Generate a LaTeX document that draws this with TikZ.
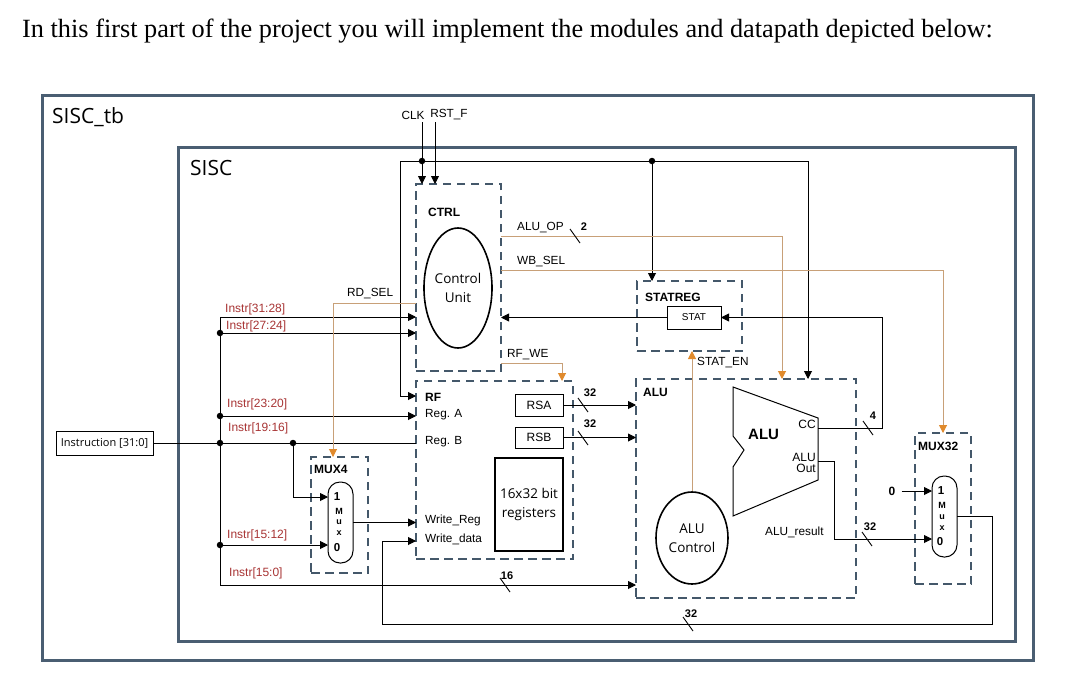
\documentclass[tikz,border=0pt]{standalone}
\usepackage{fontspec}
\setmainfont{Liberation Serif}
\setsansfont{Liberation Sans}
\newfontfamily\segoe{Open Sans}
\usetikzlibrary{arrows.meta,calc,shapes.geometric}
\definecolor{framec}{RGB}{74,94,114}
\definecolor{dashc}{RGB}{68,88,106}
\definecolor{oline}{RGB}{200,160,120}
\definecolor{ohead}{RGB}{224,138,44}
\definecolor{instrred}{RGB}{168,52,52}
\newcommand{\bx}[6][]{\node[#1, anchor=north west, outer sep=0pt, inner sep=0pt, minimum width={#5-#3}, minimum height={#6-#4}] (#2) at (#3,#4) {};}
\newcommand{\busmark}[1]{\draw[wire] ($(#1)+(-5,-7)$) -- ($(#1)+(5,7)$);}
\begin{document}
\begin{tikzpicture}[x=1pt,y=-1pt,
  lbl/.style={font=\sffamily\fontsize{11.8}{13}\selectfont, inner sep=0pt, anchor=west},
  ilbl/.style={font=\sffamily\fontsize{12}{13}\selectfont, inner sep=0pt, anchor=west, text=instrred},
  blbl/.style={font=\sffamily\bfseries\fontsize{12}{14}\selectfont, inner sep=0pt, anchor=west},
  numlbl/.style={font=\sffamily\bfseries\fontsize{11}{13}\selectfont, inner sep=0pt},
  muxlbl/.style={font=\sffamily\bfseries\fontsize{11.5}{12}\selectfont, inner sep=0pt},
  muxsm/.style={font=\sffamily\bfseries\fontsize{9}{9}\selectfont, inner sep=0pt},
  segl/.style={font=\segoe\fontsize{13.5}{19}\selectfont, align=center},
  frame/.style={draw=framec, line width=3pt},
  dbox/.style={draw=dashc, line width=2.8pt, dash pattern=on 8.5pt off 5.5pt},
  sbox/.style={draw=black, line width=0.8pt, font=\sffamily\fontsize{12}{14}\selectfont},
  wire/.style={draw=black, line width=0.9pt},
  arr/.style={wire, -{Triangle[length=8pt,width=8pt]}},
  owire/.style={draw=oline, line width=1pt},
  oarr/.style={owire, -{Triangle[length=8pt,width=8pt,color=ohead]}},
  dot/.style={circle, fill=black, inner sep=0pt, minimum size=6.5pt}
]
\useasboundingbox (0,0) rectangle (1090,686);
\fill[white] (0,0) rectangle (1090,686);

% title
\node[font=\rmfamily\fontsize{26.3}{28}\selectfont, anchor=base west, inner sep=0pt] (title) at (22,37)
  {In this first part of the project you will implement the modules and datapath depicted below:};

% frames
\bx[frame]{tb}{42}{95}{1033}{660}
\bx[frame]{sisc}{178}{147}{1015}{641}
\node[font=\segoe\fontsize{21}{24}\selectfont, anchor=west, inner sep=0pt] (tblbl) at (52,117) {SISC\_tb};
\node[font=\segoe\fontsize{21}{24}\selectfont, anchor=west, inner sep=0pt] (sisclbl) at (190,168) {SISC};

% CTRL
\bx[dbox]{ctrl}{416}{184}{501}{371}
\node[blbl] (ctrllbl) at (428,212) {CTRL};
\node[ellipse, draw, line width=1.6pt, minimum width=68pt, minimum height=120pt, inner sep=0pt, segl] (cu) at (458,288) {Control\\Unit};

% RF
\bx[dbox]{rf}{416}{381}{573}{559}
\bx[sbox]{rsa}{515}{394}{563}{416}
\node[font=\sffamily\fontsize{12}{14}\selectfont] (rsat) at (rsa) {RSA};
\bx[sbox]{rsb}{515}{427}{563}{448}
\node[font=\sffamily\fontsize{12}{14}\selectfont] (rsbt) at (rsb) {RSB};
\bx[draw=black, line width=2.4pt]{regs}{495}{458}{563}{551}
\node[font=\segoe\fontsize{13.5}{19}\selectfont, align=center] (regst) at (529,504) {16x32 bit\\registers};
\node[blbl] (rflbl) at (425,397) {RF};
\node[lbl] (rega) at (425,415) {Reg. A};
\node[lbl] (regb) at (425,442) {Reg. B};
\node[lbl] (wreg) at (425,520) {Write\_Reg};
\node[lbl] (wdat) at (425,539) {Write\_data};

% STATREG
\bx[dbox]{statreg}{637}{281}{742}{351}
\node[blbl] (statreglbl) at (645,297) {STATREG};
\bx[sbox]{stat}{667}{306}{721}{329}
\node[font=\sffamily\fontsize{10}{12}\selectfont] (statt) at (stat) {STAT};

% ALU
\bx[dbox]{alu}{636}{379}{856}{598}
\node[blbl] (alulbl) at (643,392) {ALU};
\draw[line width=1pt] (733,387) coordinate (aluTL) -- (818,418) -- (818,480) -- (733,516) -- (733,467) -- (744,450) -- (733,436) -- cycle;
\coordinate (ccout) at (818,428);
\coordinate (aluout) at (818,461);
\node[font=\sffamily\bfseries\fontsize{15}{17}\selectfont, anchor=west, inner sep=0pt] (alubig) at (748,434) {ALU};
\node[font=\sffamily\fontsize{12}{13}\selectfont, anchor=east, inner sep=0pt] (cclbl) at (816,424) {CC};
\node[font=\sffamily\fontsize{12}{11}\selectfont, anchor=east, inner sep=0pt, align=right] (aluoutlbl) at (816,463) {ALU\\Out};
\node[ellipse, draw, line width=1.6pt, minimum width=72pt, minimum height=92pt, inner sep=0pt, segl] (aluctrl) at (692,538) {ALU\\Control};
\node[lbl] (alures) at (765,532) {ALU\_result};

% MUX4
\bx[dbox]{mux4}{311}{457}{368}{573}
\node[blbl] (mux4lbl) at (314,469) {MUX4};
\bx[draw=black, line width=1pt, rounded corners=12pt]{mux4s}{328}{482}{353}{563}
\node[muxlbl] (m4a) at (337,497) {1};
\node[muxsm] (m4b) at (339,511) {M};
\node[muxsm] (m4c) at (339,522) {u};
\node[muxsm] (m4d) at (339,533) {x};
\node[muxlbl] (m4e) at (337,548) {0};

% MUX32
\bx[dbox]{mux32}{915}{433}{971}{584}
\node[blbl] (mux32lbl) at (918,446) {MUX32};
\bx[draw=black, line width=1pt, rounded corners=12pt]{mux32s}{932}{476}{957}{557}
\node[muxlbl] (m32a) at (941,491) {1};
\node[muxsm] (m32b) at (942,505) {M};
\node[muxsm] (m32c) at (942,517) {u};
\node[muxsm] (m32d) at (942,528) {x};
\node[muxlbl] (m32e) at (940,542) {0};
\node[font=\sffamily\bfseries\fontsize{12}{14}\selectfont, inner sep=0pt] (zero) at (892,491) {0};

% Instruction
\bx[draw=black, line width=0.8pt]{instr}{56}{431}{153}{455}
\node[font=\segoe\fontsize{11}{13}\selectfont] (instrt) at (instr) {Instruction [31:0]};

% CLK / RST
\node[lbl, anchor=center] (clk) at (413,115) {CLK};
\node[lbl, anchor=center] (rst) at (449,115) {RST\_F};
\coordinate (clkin) at (422,122);
\coordinate (rstin) at (435,122);
\coordinate (clkj) at (422,161);
\coordinate (clkL) at (400,161);
\coordinate (clkS) at (652,161);
\coordinate (clkR) at (808,161);
\coordinate (rfin) at (400,396);
\draw[arr] (clkin) -- (ctrl.north -| clkin);
\draw[arr] (rstin) -- (ctrl.north -| rstin);
\draw[wire] (clkL) -- (clkR);
\draw[arr] (clkL) -- (rfin) -- (rf.west |- rfin);
\draw[arr] (clkS) -- (statreg.north -| clkS);
\draw[arr] (clkR) -- (alu.north -| clkR);
\node[dot] (d1) at (clkj) {};
\node[dot] (d2) at (clkS) {};

% instruction bus
\coordinate (bTop) at (220,317);
\coordinate (b2724) at (220,333);
\coordinate (b2320) at (220,416);
\coordinate (bInstr) at (220,443);
\coordinate (b1916) at (293,443);
\coordinate (b1916d) at (293,497);
\coordinate (b1512) at (220,545);
\coordinate (bBot) at (220,585);
\draw[wire] (instr.east) -- (rf.west |- instr.east);
\draw[wire] (bTop) -- (bBot);
\draw[arr] (bTop) -- (ctrl.west |- bTop);
\draw[arr] (b2724) -- (ctrl.west |- b2724);
\draw[arr] (b2320) -- (rf.west |- b2320);
\draw[arr] (b1916) -- (b1916d) -- (mux4s.west |- b1916d);
\draw[arr] (b1512) -- (mux4s.west |- b1512);
\draw[arr] (bBot) -- (alu.west |- bBot);
\node[dot] at (b2724) {};
\node[dot] at (b2320) {};
\node[dot] at (bInstr) {};
\node[dot] at (b1916) {};
\node[dot] at (b1512) {};
\node[ilbl] (l3128) at (225,309) {Instr[31:28]};
\node[ilbl] (l2724) at (226,326) {Instr[27:24]};
\node[ilbl] (l2320) at (227,404) {Instr[23:20]};
\node[ilbl] (l1916) at (228,428) {Instr[19:16]};
\node[ilbl] (l1512) at (227,535) {Instr[15:12]};
\node[ilbl] (l150) at (229,573) {Instr[15:0]};
\coordinate (m16) at (505,585);
\busmark{m16}
\node[numlbl] (n16) at (507,576) {16};

% MUX4 -> RF
\draw[arr] (mux4s.east) -- (rf.west |- mux4s.east);

% MUX32 loop back to Write_data
\coordinate (wd) at (382,541);
\coordinate (loopR) at (992,624);
\coordinate (loopL) at (382,624);
\draw[arr] (mux32s.east) -| (loopR) -- (loopL) |- (rf.west |- wd);
\coordinate (m32b) at (688,624);
\busmark{m32b}
\node[numlbl] (n32b) at (691,614) {32};

% RSA / RSB -> ALU
\draw[arr] (rsa.east) -- (alu.west |- rsa.east);
\draw[arr] (rsb.east) -- (alu.west |- rsb.east);
\coordinate (mrsa) at (583,405);
\coordinate (mrsb) at (583,438);
\busmark{mrsa}
\busmark{mrsb}
\node[numlbl] (nrsa) at (590,393) {32};
\node[numlbl] (nrsb) at (590,424) {32};

% control signals (orange)
\coordinate (rdsel) at (333,303);
\draw[oarr] (ctrl.west |- rdsel) -- (rdsel) -- (mux4.north -| rdsel);
\node[lbl] (rdsellbl) at (347,294) {RD\_SEL};
\coordinate (aluop) at (782,236);
\draw[oarr] (ctrl.east |- aluop) -- (aluop) -- (alu.north -| aluop);
\node[lbl] (aluoplbl) at (517,228) {ALU\_OP};
\coordinate (maluop) at (575,236);
\busmark{maluop}
\node[numlbl] (n2) at (584,227) {2};
\coordinate (wbsel) at (943,270);
\draw[oarr] (ctrl.east |- wbsel) -- (wbsel) -- (mux32.north -| wbsel);
\node[lbl] (wbsellbl) at (517,262) {WB\_SEL};
\coordinate (rfwe) at (562,363);
\draw[oarr] (ctrl.east |- rfwe) -- (rfwe) -- (rf.north -| rfwe);
\node[lbl] (rfwelbl) at (507,355) {RF\_WE};
\draw[oarr] (aluctrl.north) -- (statreg.south -| aluctrl.north);
\node[lbl] (statenlbl) at (697,363) {STAT\_EN};

% STAT -> CTRL
\draw[arr] (stat.west) -- (ctrl.east |- stat.west);

% CC feedback
\coordinate (ccR) at (882,428);
\draw[arr] (ccout) -- (ccR) |- (stat.east);
\coordinate (mcc) at (868,428);
\busmark{mcc}
\node[numlbl] (n4) at (873,416) {4};

% ALU result -> MUX32
\coordinate (ar1) at (834,461);
\coordinate (ar2) at (834,539);
\draw[arr] (aluout) -- (ar1) -- (ar2) -- (mux32s.west |- ar2);
\coordinate (mar) at (867,539);
\busmark{mar}
\node[numlbl] (n32r) at (870,527) {32};

% zero -> MUX32
\draw[arr] ($(zero.east)+(6,0)$) -- (mux32s.west |- zero);
\end{tikzpicture}
\end{document}
